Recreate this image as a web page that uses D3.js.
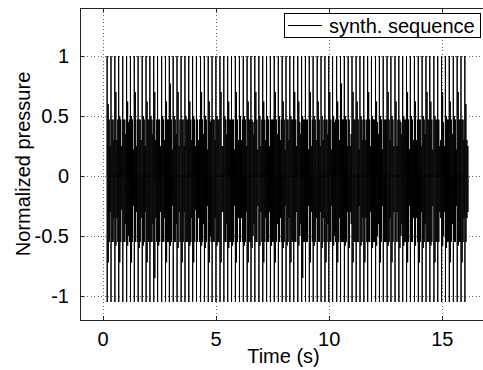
<!DOCTYPE html>
<html><head><meta charset="utf-8">
<script src="https://cdn.jsdelivr.net/npm/d3@7/dist/d3.min.js"></script>
<style>
html,body{margin:0;padding:0;background:#fff;}
svg{display:block;font-family:"Liberation Sans",Arial,Helvetica,sans-serif;}
</style></head>
<body>
<svg id="chart" width="483" height="370"></svg>
<script>
// ---- data ----
const xTicks = [0, 5, 10, 15];
const yTicks = [-1, -0.5, 0, 0.5, 1];
const yTickLabels = ["-1", "-0.5", "0", "0.5", "1"];
const xDomain = [-1, 17];
const yDomain = [-1.2, 1.4];
const seriesName = "synth. sequence";

// pulse onset times (s)
const pulseTimes = [0.20,0.37,0.54,0.71,0.89,1.06,1.23,1.40,1.57,1.75,1.92,2.09,2.26,2.43,2.61,2.78,2.95,3.12,3.29,3.47,3.64,3.81,3.98,4.15,4.33,4.50,4.67,4.84,5.01,5.19,5.36,5.53,5.70,5.87,6.05,6.22,6.39,6.56,6.73,6.91,7.08,7.25,7.42,7.59,7.77,7.94,8.11,8.28,8.45,8.63,8.80,8.97,9.14,9.31,9.49,9.66,9.83,10.00,10.17,10.35,10.52,10.69,10.86,11.03,11.21,11.38,11.55,11.72,11.89,12.07,12.24,12.41,12.58,12.75,12.93,13.10,13.27,13.44,13.61,13.79,13.96,14.13,14.30,14.47,14.65,14.82,14.99,15.16,15.33,15.51,15.68,15.85,16.02];
// main spike extremes
const mainHi = 1.0;
const mainLo = -1.05;
// secondary spikes within each period
const s1Hi = [0.60,0.47,0.70,0.50,0.47,0.62,0.50,0.70,0.47,0.50,0.62,0.50,0.70,0.47,0.50,0.62,0.77,0.50,0.70,0.47,0.50,0.62,0.50,0.47,0.70,0.50,0.62,0.47,0.50,0.70,0.50,0.62,0.47,0.70,0.50,0.50,0.62,0.47,0.70,0.50,0.62,0.50,0.47,0.70,0.50,0.62,0.47,0.50,0.70,0.62,0.50,0.47,0.70,0.50,0.62,0.50,0.47,0.70,0.50,0.62,0.77,0.50,0.47,0.70,0.62,0.50,0.47,0.70,0.50,0.62,0.50,0.47,0.70,0.50,0.62,0.47,0.50,0.70,0.50,0.62,0.47,0.50,0.70,0.62,0.50,0.47,0.70,0.50,0.62,0.50,0.70,0.47,0.60];
const s1Lo = [-0.72,-0.55,-0.58,-0.72,-0.55,-0.58,-0.72,-0.55,-0.60,-0.58,-0.72,-0.55,-0.85,-0.58,-0.55,-0.72,-0.58,-0.55,-0.60,-0.72,-0.55,-0.58,-0.72,-0.55,-0.58,-0.60,-0.72,-0.55,-0.58,-0.72,-0.55,-0.60,-0.58,-0.72,-0.55,-0.58,-0.72,-0.60,-0.55,-0.58,-0.72,-0.55,-0.58,-0.72,-0.55,-0.60,-0.58,-0.72,-0.55,-0.58,-0.85,-0.55,-0.72,-0.58,-0.55,-0.60,-0.72,-0.55,-0.58,-0.72,-0.55,-0.58,-0.60,-0.72,-0.55,-0.58,-0.72,-0.55,-0.60,-0.58,-0.72,-0.55,-0.58,-0.72,-0.55,-0.60,-0.58,-0.72,-0.55,-0.58,-0.72,-0.60,-0.55,-0.58,-0.72,-0.55,-0.58,-0.60,-0.72,-0.55,-0.58,-0.72,-0.55];
const s2Hi = [0.47,0.47,0.30,0.47,0.47,0.45,0.47,0.25,0.47,0.47,0.47,0.47,0.30,0.47,0.47,0.47,0.47,0.47,0.25,0.47,0.47,0.47,0.47,0.30,0.47,0.47,0.45,0.47,0.47,0.25,0.47,0.47,0.47,0.47,0.30,0.47,0.47,0.45,0.47,0.25,0.47,0.47,0.47,0.47,0.30,0.47,0.47,0.47,0.47,0.45,0.47,0.47,0.25,0.47,0.47,0.30,0.47,0.47,0.45,0.47,0.47,0.47,0.25,0.47,0.47,0.47,0.30,0.47,0.47,0.45,0.47,0.47,0.47,0.47,0.25,0.45,0.47,0.47,0.47,0.30,0.47,0.47,0.47,0.47,0.47,0.25,0.45,0.47,0.47,0.47,0.47,0.47,0.30];
const s2Lo = [-0.55,-0.55,-0.35,-0.55,-0.55,-0.50,-0.55,-0.30,-0.55,-0.55,-0.55,-0.55,-0.35,-0.55,-0.55,-0.55,-0.55,-0.55,-0.30,-0.55,-0.55,-0.55,-0.55,-0.35,-0.55,-0.55,-0.50,-0.55,-0.55,-0.30,-0.55,-0.55,-0.55,-0.55,-0.35,-0.55,-0.55,-0.50,-0.55,-0.30,-0.55,-0.55,-0.55,-0.55,-0.35,-0.55,-0.55,-0.55,-0.55,-0.50,-0.55,-0.55,-0.30,-0.55,-0.55,-0.35,-0.55,-0.55,-0.50,-0.55,-0.55,-0.55,-0.30,-0.55,-0.55,-0.55,-0.35,-0.55,-0.55,-0.50,-0.55,-0.55,-0.55,-0.55,-0.30,-0.50,-0.55,-0.55,-0.55,-0.35,-0.55,-0.55,-0.55,-0.55,-0.55,-0.30,-0.50,-0.55,-0.55,-0.55,-0.55,-0.55,-0.35];
const s3Hi = [0.25,0.30,0.47,0.25,0.35,0.47,0.22,0.47,0.30,0.25,0.47,0.35,0.47,0.25,0.30,0.47,0.22,0.35,0.47,0.25,0.47,0.30,0.25,0.47,0.35,0.22,0.47,0.30,0.47,0.25,0.35,0.47,0.22,0.30,0.47,0.25,0.47,0.35,0.22,0.47,0.30,0.25,0.47,0.35,0.47,0.22,0.30,0.47,0.25,0.35,0.47,0.22,0.47,0.30,0.25,0.47,0.35,0.22,0.47,0.30,0.47,0.25,0.35,0.47,0.22,0.30,0.47,0.25,0.47,0.35,0.22,0.47,0.30,0.25,0.47,0.35,0.47,0.22,0.30,0.47,0.25,0.35,0.47,0.22,0.47,0.30,0.25,0.47,0.35,0.22,0.47,0.30,0.25];
const s3Lo = [-0.30,-0.35,-0.55,-0.28,-0.40,-0.55,-0.25,-0.55,-0.35,-0.30,-0.55,-0.40,-0.55,-0.30,-0.35,-0.55,-0.25,-0.40,-0.55,-0.30,-0.55,-0.35,-0.28,-0.55,-0.40,-0.25,-0.55,-0.35,-0.55,-0.30,-0.40,-0.55,-0.25,-0.35,-0.55,-0.30,-0.55,-0.40,-0.25,-0.55,-0.35,-0.30,-0.55,-0.40,-0.55,-0.25,-0.35,-0.55,-0.30,-0.40,-0.55,-0.25,-0.55,-0.35,-0.30,-0.55,-0.40,-0.25,-0.55,-0.35,-0.55,-0.30,-0.40,-0.55,-0.25,-0.35,-0.55,-0.30,-0.55,-0.40,-0.25,-0.55,-0.35,-0.30,-0.55,-0.40,-0.55,-0.25,-0.35,-0.55,-0.30,-0.40,-0.55,-0.25,-0.55,-0.35,-0.30,-0.55,-0.40,-0.25,-0.55,-0.35,-0.30];

// ---- layout ----
const L = 80, T = 8, B = 320, R = 487;
const FS = 20;
const svg = d3.select("#chart");
const x = d3.scaleLinear().domain(xDomain).range([L, R]);
const y = d3.scaleLinear().domain(yDomain).range([B, T]);

// build the waveform point list from the pulse tables
const pts = [];
pulseTimes.forEach((t, i) => {
  pts.push([t, 0], [t, mainHi], [t + 0.003, mainLo], [t + 0.006, 0]);
  [[s1Hi, s1Lo, 0.045], [s2Hi, s2Lo, 0.088], [s3Hi, s3Lo, 0.131]].forEach(([hi, lo, off]) => {
    if (hi[i] === undefined) return;
    pts.push([t + off, 0], [t + off + 0.002, hi[i]], [t + off + 0.005, lo[i]], [t + off + 0.008, 0]);
  });
});

// clip
svg.append("defs").append("clipPath").attr("id", "clip")
  .append("rect").attr("x", L).attr("y", T).attr("width", R - L).attr("height", B - T);

// grid
const grid = svg.append("g").attr("stroke", "#666").attr("stroke-width", 1)
  .attr("stroke-dasharray", "1,2.5").attr("shape-rendering", "crispEdges");
grid.selectAll("line.gx").data(xTicks).join("line")
  .attr("x1", d => Math.round(x(d)) + 0.5).attr("x2", d => Math.round(x(d)) + 0.5)
  .attr("y1", T).attr("y2", B);
grid.selectAll("line.gy").data(yTicks).join("line")
  .attr("y1", d => Math.round(y(d)) + 0.5).attr("y2", d => Math.round(y(d)) + 0.5)
  .attr("x1", L).attr("x2", R);

// waveform
svg.append("path").datum(pts)
  .attr("clip-path", "url(#clip)")
  .attr("fill", "none").attr("stroke", "#000").attr("stroke-width", 1)
  .attr("d", d3.line().x(d => x(d[0])).y(d => y(d[1])));

// axes
const tickLen = 4;
const axB = svg.append("g").attr("transform", `translate(0,${B})`)
  .call(d3.axisBottom(x).tickValues(xTicks).tickSize(-tickLen).tickPadding(tickLen + 8).tickFormat(d3.format("d")));
const axT = svg.append("g").attr("transform", `translate(0,${T})`)
  .call(d3.axisTop(x).tickValues(xTicks).tickSize(-tickLen).tickFormat(""));
const axL = svg.append("g").attr("transform", `translate(${L},0)`)
  .call(d3.axisLeft(y).tickValues(yTicks).tickSize(-tickLen).tickPadding(tickLen + 7)
    .tickFormat((d, i) => yTickLabels[i]));
[axB, axT, axL].forEach(g => {
  g.selectAll("path.domain").attr("stroke", "#222").attr("shape-rendering", "crispEdges");
  g.selectAll(".tick line").attr("stroke", "#222").attr("shape-rendering", "crispEdges");
  g.selectAll("text").attr("font-size", FS).attr("fill", "#000")
    .attr("font-family", '"Liberation Sans",Arial,Helvetica,sans-serif');
});
axB.select("path.domain").attr("d", `M${L},0.5H${R}`);
axT.select("path.domain").attr("d", `M${L},0.5H${R}`);
axL.select("path.domain").attr("d", `M0.5,${T}V${B}`);

// axis labels
svg.append("text").attr("x", (L + R) / 2).attr("y", 363).attr("text-anchor", "middle")
  .attr("font-size", FS).text("Time (s)");
svg.append("text").attr("transform", `translate(30,${(T + B) / 2}) rotate(-90)`)
  .attr("text-anchor", "middle").attr("font-size", FS).text("Normalized pressure");

// legend
const lg = svg.append("g");
lg.append("rect").attr("x", 284.5).attr("y", 13.5).attr("width", 196).attr("height", 24)
  .attr("fill", "#fff").attr("stroke", "#000").attr("stroke-width", 1);
lg.append("line").attr("x1", 288).attr("x2", 322).attr("y1", 25.5).attr("y2", 25.5)
  .attr("stroke", "#000").attr("stroke-width", 1);
lg.append("text").attr("x", 329).attr("y", 32.5).attr("font-size", FS).text(seriesName);
</script>
</body></html>
